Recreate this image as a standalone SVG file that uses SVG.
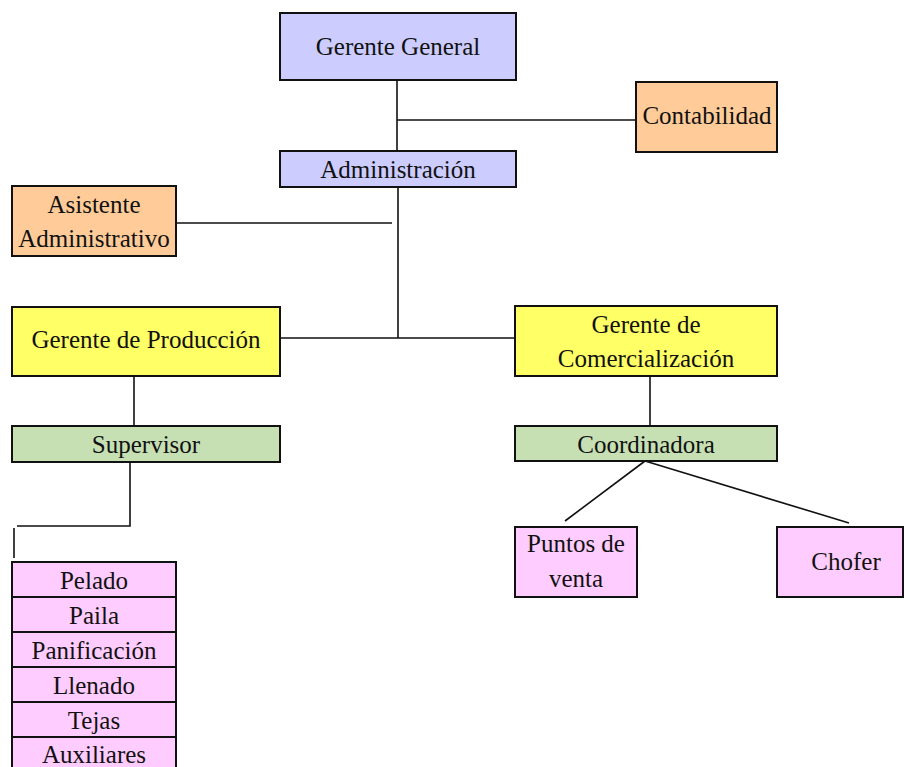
<svg xmlns="http://www.w3.org/2000/svg" width="904" height="767" viewBox="0 0 904 767">
<style>
text{font-family:"Liberation Serif","Times New Roman",serif;font-size:25px;fill:#111;text-anchor:middle}
.n rect{stroke:#111;stroke-width:2}
.blue{fill:#CCCCFF}.orange{fill:#FFCC99}.yellow{fill:#FFFF66}.green{fill:#C6E0B4}.pink{fill:#FFCCFF}
.c line,.c polyline{stroke:#111;stroke-width:1.6;fill:none}
</style>
<rect width="904" height="767" fill="#fff"/>
<g class="c" id="connectors">
<line x1="397" y1="80" x2="397" y2="151"/>
<line x1="397" y1="120" x2="636" y2="120"/>
<line x1="398" y1="187" x2="398" y2="338"/>
<line x1="176" y1="223" x2="392" y2="223"/>
<line x1="280" y1="338" x2="515" y2="338"/>
<line x1="650" y1="376" x2="650" y2="426"/>
<line x1="134" y1="376" x2="134" y2="426"/>
<polyline points="130,462 130,526 17,526"/>
<line x1="14" y1="528" x2="14" y2="558"/>
<line x1="645" y1="461" x2="565" y2="521"/>
<line x1="645" y1="461" x2="849" y2="523"/>
</g>
<g class="n" id="gerente-general"><rect class="blue" x="280" y="13" width="236" height="67"/><text x="398" y="55">Gerente General</text></g>
<g class="n" id="contabilidad"><rect class="orange" x="636" y="82" width="141" height="70"/><text x="707" y="124">Contabilidad</text></g>
<g class="n" id="administracion"><rect class="blue" x="280" y="151" width="236" height="36"/><text x="398" y="178">Administración</text></g>
<g class="n" id="asistente"><rect class="orange" x="12" y="186" width="164" height="70"/><text x="94" y="213">Asistente</text><text x="94" y="247">Administrativo</text></g>
<g class="n" id="gerente-produccion"><rect class="yellow" x="12" y="307" width="268" height="69"/><text x="146" y="348">Gerente de Producción</text></g>
<g class="n" id="gerente-comercializacion"><rect class="yellow" x="515" y="306" width="262" height="70"/><text x="646" y="333">Gerente de</text><text x="646" y="367">Comercialización</text></g>
<g class="n" id="supervisor"><rect class="green" x="12" y="426" width="268" height="36"/><text x="146" y="453">Supervisor</text></g>
<g class="n" id="coordinadora"><rect class="green" x="515" y="426" width="262" height="35"/><text x="646" y="453">Coordinadora</text></g>
<g class="n" id="puntos-venta"><rect class="pink" x="515" y="527" width="122" height="70"/><text x="576" y="552">Puntos de</text><text x="576" y="587">venta</text></g>
<g class="n" id="chofer"><rect class="pink" x="777" y="527" width="126" height="70"/><text x="846" y="570">Chofer</text></g>
<g class="n" id="pelado"><rect class="pink" x="12" y="562" width="164" height="35"/><text x="94" y="589">Pelado</text></g>
<g class="n" id="paila"><rect class="pink" x="12" y="597" width="164" height="35"/><text x="94" y="624">Paila</text></g>
<g class="n" id="panificacion"><rect class="pink" x="12" y="632" width="164" height="35"/><text x="94" y="659">Panificación</text></g>
<g class="n" id="llenado"><rect class="pink" x="12" y="667" width="164" height="35"/><text x="94" y="694">Llenado</text></g>
<g class="n" id="tejas"><rect class="pink" x="12" y="702" width="164" height="35"/><text x="94" y="729">Tejas</text></g>
<g class="n" id="auxiliares"><rect class="pink" x="12" y="737" width="164" height="35"/><text x="94" y="763">Auxiliares</text></g>
</svg>
